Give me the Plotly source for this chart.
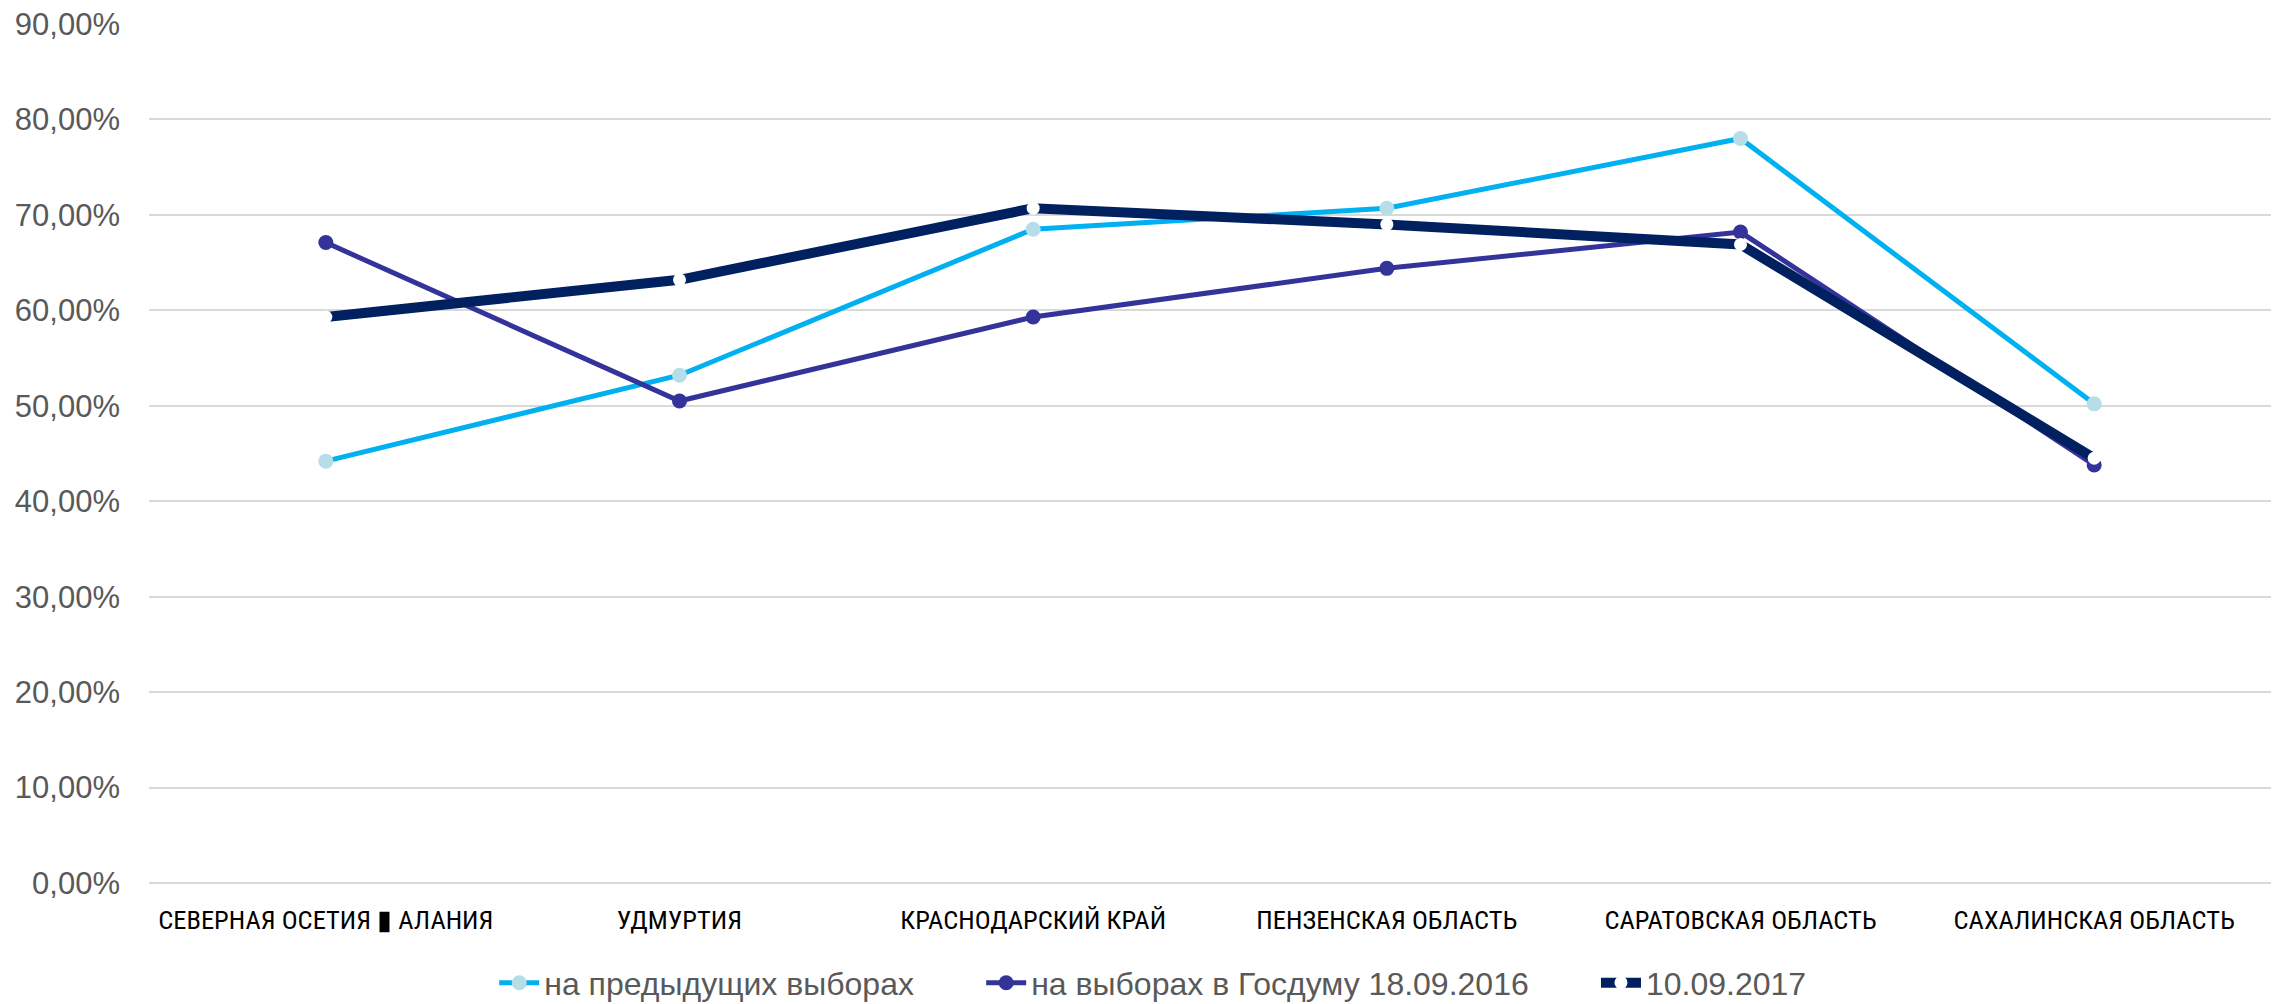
import plotly.graph_objects as go

regions = ["СЕВЕРНАЯ ОСЕТИЯ ▮ АЛАНИЯ", "УДМУРТИЯ", "КРАСНОДАРСКИЙ КРАЙ",
           "ПЕНЗЕНСКАЯ ОБЛАСТЬ", "САРАТОВСКАЯ ОБЛАСТЬ", "САХАЛИНСКАЯ ОБЛАСТЬ"]

prev_elections = [0.442, 0.532, 0.685, 0.707, 0.780, 0.502]
duma_2016 = [0.671, 0.505, 0.593, 0.644, 0.682, 0.438]
vote_2017 = [0.593, 0.632, 0.707, 0.690, 0.669, 0.445]

# trailing nbsp give the legend entries the wider gaps of the original
pad = "\u00a0" * 7

fig = go.Figure()

fig.add_trace(go.Scatter(x=regions, y=prev_elections, name="на предыдущих выборах" + pad,
                         mode="lines+markers",
                         line=dict(color="#00B0F0", width=5),
                         marker=dict(color="#B7DEE8", size=15)))
fig.add_trace(go.Scatter(x=regions, y=duma_2016, name="на выборах в Госдуму 18.09.2016" + pad,
                         mode="lines+markers",
                         line=dict(color="#333399", width=5),
                         marker=dict(color="#333399", size=15)))
fig.add_trace(go.Scatter(x=regions, y=vote_2017, name="10.09.2017",
                         mode="lines+markers",
                         line=dict(color="#002060", width=10),
                         marker=dict(color="#FFFFFF", size=13)))

fig.update_layout(
    width=2280, height=1004,
    margin=dict(l=149, r=9, t=24, b=121),
    plot_bgcolor="white", paper_bgcolor="white",
    separators=", ",
    font=dict(family="Liberation Sans, Arial, sans-serif", size=31, color="#595959"),
    showlegend=True,
    legend=dict(orientation="h", x=0.473, xanchor="center",
                yref="container", y=0.021, yanchor="middle",
                font=dict(size=32, color="#595959"), itemwidth=40),
)

fig.update_xaxes(
    range=[-0.5, 5.5],
    showgrid=False, showline=False, ticks="", tickangle=0, automargin=False,
    ticklabelstandoff=18,
    tickfont=dict(family="Roboto Condensed, Liberation Sans, sans-serif",
                  size=26.5, color="black"),
)
fig.update_yaxes(
    range=[0, 0.9], dtick=0.1, tickformat=".2%", automargin=False,
    showgrid=True, gridcolor="#D9D9D9", gridwidth=1.5,
    zeroline=True, zerolinecolor="#D9D9D9", zerolinewidth=1.5,
    showline=False, ticks="", ticklabelstandoff=28,
)

fig.write_html("out.html", config={"displayModeBar": False},
               post_script="document.body.style.margin='0';")
